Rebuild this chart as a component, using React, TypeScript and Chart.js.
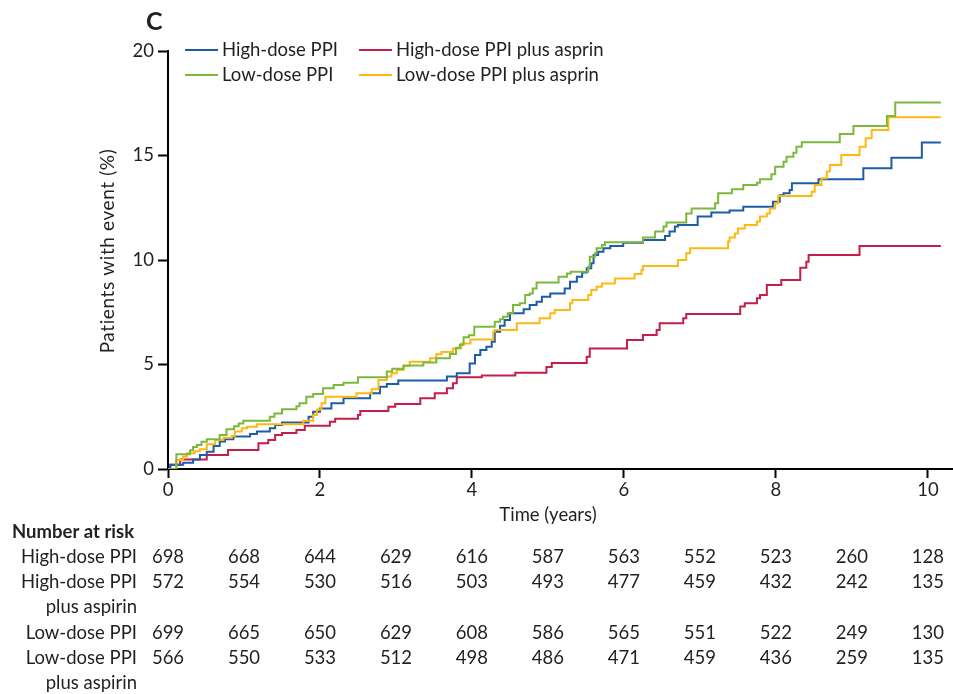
import React, { useEffect, useRef } from 'react';
import { Chart, registerables } from 'chart.js';

Chart.register(...registerables);

const FONT = 'Lato, "Open Sans", "DejaVu Sans", sans-serif';
const TEXT = '#231f20';

// Axis ticks
const xTicks = [0, 2, 4, 6, 8, 10];
const yTicks = [0, 5, 10, 15, 20];

// Series labels and colours
const seriesLabels = ['High-dose PPI', 'High-dose PPI plus asprin', 'Low-dose PPI', 'Low-dose PPI plus asprin'];
const seriesColors = ['#1d5ca6', '#c41e4a', '#7cb83c', '#fdb913'];

// High-dose PPI (blue)
const highPPITimes = [0, 0.03, 0.2, 0.33, 0.42, 0.51, 0.6, 0.68, 0.75, 0.86, 1.08, 1.17, 1.34, 1.41, 1.5, 1.85, 1.91, 2.0, 2.15, 2.31, 2.66, 2.79, 2.88, 3.03, 3.67, 3.8, 3.97, 4.04, 4.11, 4.19, 4.26, 4.3, 4.37, 4.43, 4.5, 4.68, 4.76, 4.85, 4.92, 5.03, 5.22, 5.29, 5.38, 5.45, 5.51, 5.57, 5.6, 5.66, 5.73, 5.82, 5.99, 6.25, 6.54, 6.6, 6.67, 6.71, 6.97, 7.15, 7.39, 7.57, 7.96, 8.05, 8.1, 8.18, 8.21, 8.56, 9.15, 9.52, 9.92, 10.17];
const highPPIValues = [0, 0.2, 0.3, 0.46, 0.67, 0.83, 1.1, 1.31, 1.42, 1.55, 1.67, 1.79, 1.95, 2.11, 2.23, 2.5, 2.74, 2.9, 3.14, 3.38, 3.62, 3.94, 4.07, 4.23, 4.42, 4.58, 5.05, 5.45, 5.69, 5.85, 6.09, 6.57, 6.85, 7.13, 7.45, 7.64, 7.85, 8.0, 8.24, 8.4, 8.64, 8.96, 9.2, 9.4, 9.6, 9.84, 10.24, 10.4, 10.56, 10.67, 10.83, 10.96, 11.15, 11.36, 11.6, 11.67, 12.08, 12.27, 12.37, 12.55, 12.79, 13.1, 13.19, 13.35, 13.67, 13.86, 14.39, 14.89, 15.62, 15.62];

// High-dose PPI plus aspirin (red)
const highAspTimes = [0, 0.03, 0.16, 0.51, 0.79, 1.19, 1.32, 1.41, 1.5, 1.69, 1.8, 2.13, 2.2, 2.5, 2.53, 2.9, 2.99, 3.32, 3.51, 3.67, 3.75, 3.8, 4.13, 4.57, 4.98, 5.05, 5.51, 5.55, 6.04, 6.25, 6.43, 6.47, 6.78, 6.82, 7.53, 7.59, 7.75, 7.79, 7.88, 8.07, 8.32, 8.4, 8.43, 9.1, 10.17];
const highAspValues = [0, 0.2, 0.46, 0.67, 0.91, 1.23, 1.39, 1.63, 1.72, 1.87, 2.07, 2.26, 2.4, 2.58, 2.78, 2.98, 3.11, 3.38, 3.62, 3.86, 4.1, 4.39, 4.47, 4.61, 4.88, 5.07, 5.37, 5.77, 6.17, 6.41, 6.65, 6.97, 7.21, 7.42, 7.77, 7.93, 8.17, 8.33, 8.8, 9.04, 9.63, 9.92, 10.24, 10.67, 10.67];

// Low-dose PPI (green)
const lowPPITimes = [0, 0.11, 0.29, 0.33, 0.38, 0.44, 0.51, 0.68, 0.77, 0.87, 0.93, 0.99, 1.34, 1.4, 1.5, 1.69, 1.73, 1.82, 1.91, 2.04, 2.18, 2.31, 2.5, 2.88, 2.95, 3.1, 3.36, 3.53, 3.71, 3.79, 3.84, 3.89, 3.96, 4.03, 4.3, 4.37, 4.41, 4.47, 4.54, 4.63, 4.7, 4.76, 4.8, 4.85, 5.14, 5.25, 5.3, 5.53, 5.55, 5.62, 5.64, 5.71, 5.75, 6.25, 6.41, 6.52, 6.56, 6.82, 6.89, 7.2, 7.24, 7.42, 7.57, 7.75, 7.79, 7.94, 7.99, 8.1, 8.14, 8.23, 8.27, 8.34, 8.84, 9.02, 9.46, 9.57, 10.17];
const lowPPIValues = [0, 0.7, 0.9, 1.05, 1.15, 1.3, 1.42, 1.63, 1.9, 2.05, 2.18, 2.31, 2.5, 2.65, 2.86, 3.0, 3.14, 3.46, 3.59, 3.86, 4.02, 4.13, 4.39, 4.66, 4.8, 4.95, 5.09, 5.3, 5.5, 5.8, 5.95, 6.3, 6.4, 6.81, 7.05, 7.17, 7.29, 7.45, 7.85, 7.93, 8.33, 8.4, 8.64, 8.92, 9.2, 9.36, 9.44, 9.68, 10.16, 10.32, 10.56, 10.72, 10.85, 11.08, 11.36, 11.6, 11.79, 12.23, 12.47, 12.71, 13.19, 13.38, 13.59, 13.7, 13.86, 14.1, 14.46, 14.7, 14.94, 15.13, 15.42, 15.63, 16.03, 16.41, 16.89, 17.53, 17.53];

// Low-dose PPI plus aspirin (yellow)
const lowAspTimes = [0, 0.11, 0.2, 0.25, 0.35, 0.42, 0.51, 0.62, 0.73, 0.84, 0.88, 0.97, 1.04, 1.17, 1.78, 1.91, 1.96, 2.02, 2.07, 2.48, 2.68, 2.77, 2.88, 2.94, 3.01, 3.1, 3.18, 3.45, 3.53, 3.6, 3.75, 3.86, 3.98, 4.28, 4.3, 4.59, 4.89, 5.03, 5.09, 5.29, 5.32, 5.53, 5.57, 5.64, 5.71, 5.88, 6.14, 6.23, 6.25, 6.71, 6.82, 6.87, 7.37, 7.39, 7.46, 7.5, 7.59, 7.75, 7.79, 7.88, 7.92, 7.99, 8.03, 8.47, 8.51, 8.6, 8.67, 8.71, 8.86, 9.1, 9.18, 9.26, 9.48, 10.17];
const lowAspValues = [0, 0.43, 0.6, 0.75, 0.85, 0.94, 1.18, 1.39, 1.5, 1.58, 1.79, 1.95, 2.02, 2.14, 2.31, 2.58, 2.85, 3.14, 3.46, 3.62, 3.81, 4.26, 4.42, 4.58, 4.74, 4.93, 5.13, 5.3, 5.49, 5.6, 5.77, 6.01, 6.2, 6.57, 6.65, 6.97, 7.21, 7.45, 7.61, 7.93, 8.09, 8.33, 8.56, 8.72, 8.88, 9.12, 9.33, 9.52, 9.71, 10.0, 10.32, 10.56, 10.88, 11.08, 11.27, 11.51, 11.67, 11.84, 12.08, 12.23, 12.47, 12.71, 13.06, 13.27, 13.59, 13.91, 14.23, 14.55, 15.02, 15.42, 15.82, 16.22, 16.83, 16.83];

// Number at risk
const riskYears = [0, 1, 2, 3, 4, 5, 6, 7, 8, 9, 10];
const riskHighPPI = [698, 668, 644, 629, 616, 587, 563, 552, 523, 260, 128];
const riskHighAsp = [572, 554, 530, 516, 503, 493, 477, 459, 432, 242, 135];
const riskLowPPI = [699, 665, 650, 629, 608, 586, 565, 551, 522, 249, 130];
const riskLowAsp = [566, 550, 533, 512, 498, 486, 471, 459, 436, 259, 135];

function zip(ts: number[], vs: number[]) {
  const n = Math.min(ts.length, vs.length);
  const out: { x: number; y: number }[] = [];
  for (let i = 0; i < n; i++) out.push({ x: ts[i], y: vs[i] });
  return out;
}

const overlayPlugin = {
  id: 'overlay',
  afterDraw(chart: any) {
    const ctx = chart.ctx as CanvasRenderingContext2D;
    const xs = chart.scales.x;
    ctx.save();
    ctx.fillStyle = TEXT;

    // Panel letter
    ctx.font = `bold 25px ${FONT}`;
    ctx.textAlign = 'left';
    ctx.textBaseline = 'alphabetic';
    ctx.fillText('C', 146, 30);

    // Legend
    const legendPos = [
      { lx: 185, tx: 222, y: 50 },
      { lx: 359, tx: 396, y: 50 },
      { lx: 185, tx: 222, y: 75 },
      { lx: 359, tx: 396, y: 75 },
    ];
    ctx.font = `18.5px ${FONT}`;
    ctx.textBaseline = 'middle';
    seriesLabels.forEach((lab, i) => {
      const p = legendPos[i];
      ctx.strokeStyle = seriesColors[i];
      ctx.lineWidth = 2;
      ctx.beginPath();
      ctx.moveTo(p.lx, p.y);
      ctx.lineTo(p.lx + 33, p.y);
      ctx.stroke();
      ctx.fillStyle = TEXT;
      ctx.fillText(lab, p.tx, p.y);
    });

    // Y axis title
    ctx.save();
    ctx.translate(108, 251);
    ctx.rotate(-Math.PI / 2);
    ctx.textAlign = 'center';
    ctx.textBaseline = 'middle';
    ctx.font = `19px ${FONT}`;
    (ctx as any).letterSpacing = '0.6px';
    ctx.fillText('Patients with event (%)', 0, 0);
    (ctx as any).letterSpacing = '0px';
    ctx.restore();

    // X axis title
    ctx.textAlign = 'center';
    ctx.textBaseline = 'middle';
    ctx.font = `18.5px ${FONT}`;
    ctx.fillText('Time (years)', xs.getPixelForValue(5), 515);

    // Number at risk table
    ctx.textAlign = 'left';
    ctx.font = `bold 18.5px ${FONT}`;
    ctx.fillText('Number at risk', 12, 532);

    const rows = [
      { lines: ['High-dose PPI'], y: 557, vals: riskHighPPI },
      { lines: ['High-dose PPI', 'plus aspirin'], y: 582, vals: riskHighAsp },
      { lines: ['Low-dose PPI'], y: 633, vals: riskLowPPI },
      { lines: ['Low-dose PPI', 'plus aspirin'], y: 658, vals: riskLowAsp },
    ];
    ctx.font = `18.5px ${FONT}`;
    rows.forEach((r) => {
      ctx.textAlign = 'right';
      r.lines.forEach((ln, k) => ctx.fillText(ln, 137, r.y + k * 25));
      ctx.textAlign = 'center';
      r.vals.forEach((v, k) => ctx.fillText(String(v), xs.getPixelForValue(riskYears[k]), r.y));
    });

    ctx.restore();
  },
};

export default function App() {
  const ref = useRef<HTMLCanvasElement>(null);

  useEffect(() => {
    document.body.style.margin = '0';
    const series = [
      { t: highPPITimes, v: highPPIValues, order: 2 },
      { t: highAspTimes, v: highAspValues, order: 3 },
      { t: lowPPITimes, v: lowPPIValues, order: 0 },
      { t: lowAspTimes, v: lowAspValues, order: 1 },
    ];
    const chart = new Chart(ref.current as HTMLCanvasElement, {
      type: 'line',
      data: {
        datasets: series.map((s, i) => ({
          label: seriesLabels[i],
          data: zip(s.t, s.v),
          borderColor: seriesColors[i],
          backgroundColor: seriesColors[i],
          borderWidth: 2,
          pointRadius: 0,
          stepped: 'before',
          fill: false,
          order: s.order,
        })),
      },
      options: {
        animation: false,
        responsive: false,
        maintainAspectRatio: false,
        events: [],
        layout: { padding: { top: 51, left: 0, right: 0, bottom: 0 } },
        plugins: { legend: { display: false }, tooltip: { enabled: false }, title: { display: false } },
        scales: {
          x: {
            type: 'linear',
            min: 0,
            max: 10.33,
            afterBuildTicks: (s: any) => {
              s.ticks = xTicks.map((v) => ({ value: v }));
            },
            afterFit: (s: any) => {
              s.height = 225;
            },
            ticks: { color: TEXT, font: { family: FONT, size: 18.5 }, padding: 1, maxRotation: 0, autoSkip: false },
            grid: { drawOnChartArea: false, drawTicks: true, tickLength: 9, tickColor: '#000', tickWidth: 2 },
            border: { display: true, color: '#000', width: 2 },
          },
          y: {
            type: 'linear',
            min: 0,
            max: 20,
            afterBuildTicks: (s: any) => {
              s.ticks = yTicks.map((v) => ({ value: v }));
            },
            afterFit: (s: any) => {
              s.width = 168;
            },
            ticks: { color: TEXT, font: { family: FONT, size: 18.5 }, padding: 4 },
            grid: { drawOnChartArea: false, drawTicks: true, tickLength: 10, tickColor: '#000', tickWidth: 2 },
            border: { display: true, color: '#000', width: 2 },
          },
        },
      },
      plugins: [overlayPlugin],
    } as any);
    return () => chart.destroy();
  }, []);

  return (
    <div style={{ width: 953, height: 694, position: 'relative', background: '#fff' }}>
      <canvas ref={ref} width={953} height={694} style={{ display: 'block', width: 953, height: 694 }} />
    </div>
  );
}
